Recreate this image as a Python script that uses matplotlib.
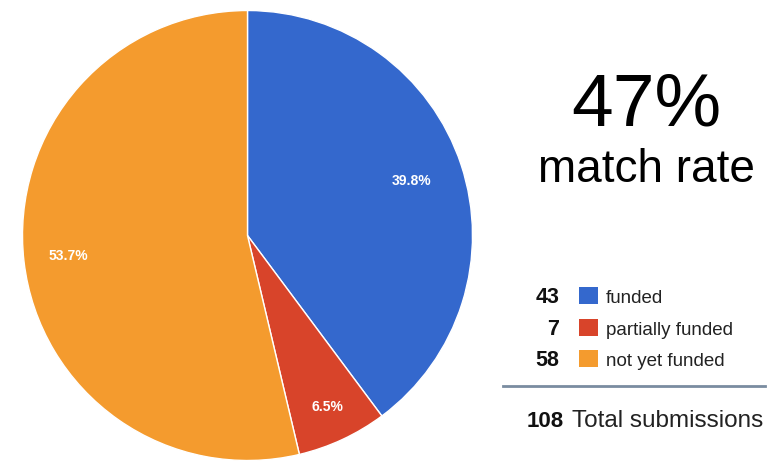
import numpy as np
import matplotlib
matplotlib.use("Agg")
import matplotlib.pyplot as plt
from matplotlib.patches import Rectangle
from matplotlib.lines import Line2D

# --- data ------------------------------------------------------------------
categories = ["funded", "partially funded", "not yet funded"]
counts = [43, 7, 58]
colors = ["#3468CD", "#D8442A", "#F49B2E"]
headline = "47%"
headline_sub = "match rate"
total_label = "Total submissions"

W, H = 779, 462
plt.rcParams["font.family"] = ["Liberation Sans", "DejaVu Sans"]

fig = plt.figure(figsize=(W / 100, H / 100), dpi=100)


def px(x, y):
    # pixel coords (top-left origin) -> figure fraction
    return x / W, 1 - y / H


# pie axes: centre (247.5, 235.5) px, radius 225 px
cx, cy, r = 247.5, 235.5, 225
ax = fig.add_axes([(cx - r) / W, (H - cy - r) / H, 2 * r / W, 2 * r / H])
wedges, _, autotexts = ax.pie(
    counts, colors=colors, startangle=90, counterclock=False,
    autopct="%1.1f%%", pctdistance=0.8,
    wedgeprops=dict(edgecolor="white", linewidth=1),
    textprops=dict(color="white", fontsize=10, fontweight="bold"))
ax.set_xlim(-1, 1)
ax.set_ylim(-1, 1)
ax.set_aspect("equal")

# nudge each percentage label to where it sits in the original
label_r = [0.77, 0.84, 0.80]
for w, t, lr in zip(wedges, autotexts, label_r):
    ang = np.deg2rad((w.theta1 + w.theta2) / 2)
    t.set_position((lr * np.cos(ang), lr * np.sin(ang)))

# headline on the right
fig.text(*px(646, 126), headline, fontsize=54, ha="center", va="baseline")
fig.text(*px(646, 182), headline_sub, fontsize=33, ha="center", va="baseline")

# hand-made legend
row_base = [303, 335, 366]
for n, cat, col, yb in zip(counts, categories, colors, row_base):
    fig.text(*px(559, yb), str(n), fontsize=15.5, fontweight="bold",
             ha="right", va="baseline", color="#111111")
    fig.patches.append(Rectangle(px(579, yb + 1), 19 / W, 17 / H,
                                 transform=fig.transFigure,
                                 facecolor=col, edgecolor="none"))
    fig.text(*px(606, yb), cat, fontsize=13.5, ha="left", va="baseline",
             color="#222222")

x0, y0 = px(503, 386)
x1, _ = px(765, 386)
fig.add_artist(Line2D([x0, x1], [y0, y0], transform=fig.transFigure,
                      color="#7A8CA0", linewidth=2))

fig.text(*px(564, 427), str(sum(counts)), fontsize=16, fontweight="bold",
         ha="right", va="baseline", color="#111111")
fig.text(*px(572, 427), total_label, fontsize=17.5, ha="left",
         va="baseline", color="#222222")

fig.savefig("out.png", dpi=100)
